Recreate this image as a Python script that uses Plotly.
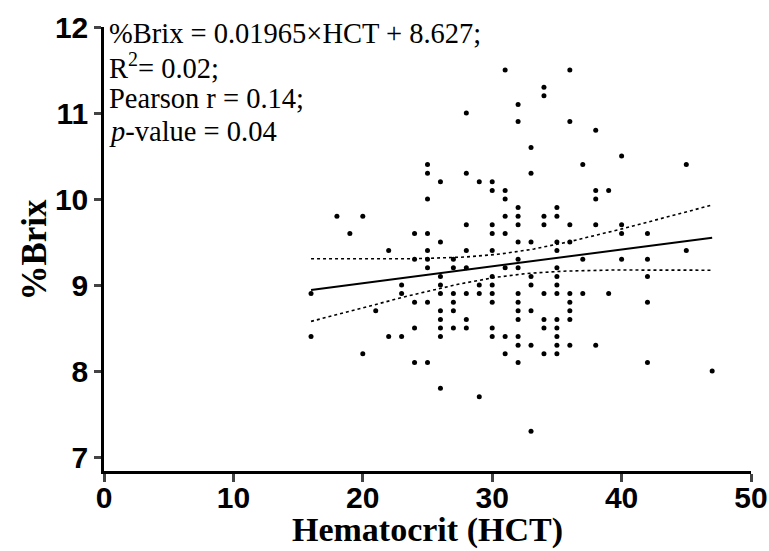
import numpy as np
import plotly.graph_objects as go

# Hematocrit (HCT) values and %Brix values
hct_groups = {
    16: [8.9, 8.4],
    18: [9.8],
    19: [9.6],
    20: [9.8, 8.2],
    21: [8.7],
    22: [9.4, 8.4],
    23: [9.0, 8.9, 8.4],
    24: [9.6, 9.3, 8.8, 8.5, 8.1],
    25: [10.4, 10.3, 10.0, 9.6, 9.4, 9.3, 9.2, 8.8, 8.1],
    26: [10.2, 9.5, 9.1, 9.0, 8.9, 8.7, 8.6, 8.5, 8.4, 7.8],
    27: [9.3, 9.2, 8.9, 8.8, 8.7, 8.5],
    28: [11.0, 10.3, 9.7, 9.4, 9.2, 8.9, 8.6, 8.5],
    29: [10.2, 9.0, 8.9, 7.7],
    30: [10.2, 10.1, 9.7, 9.6, 9.4, 9.1, 9.0, 8.9, 8.8, 8.5, 8.4],
    31: [11.5, 10.1, 10.0, 9.8, 9.6, 9.2, 8.4, 8.2],
    32: [11.1, 10.9, 9.9, 9.8, 9.7, 9.5, 9.3, 9.2, 8.9, 8.8, 8.7, 8.6, 8.4, 8.3, 8.1],
    33: [10.6, 10.3, 9.5, 9.1, 9.0, 8.7, 8.3, 7.3],
    34: [11.3, 11.2, 9.8, 9.7, 8.9, 8.6, 8.5, 8.2],
    35: [9.9, 9.8, 9.5, 9.4, 9.2, 9.1, 9.0, 8.9, 8.6, 8.5, 8.4, 8.3, 8.2],
    36: [11.5, 10.9, 9.7, 9.5, 8.9, 8.8, 8.7, 8.6, 8.3],
    37: [10.4, 9.3, 8.9],
    38: [10.8, 10.1, 10.0, 9.7, 8.3],
    39: [10.1, 8.9],
    40: [10.5, 9.7, 9.6, 9.3],
    42: [9.6, 9.3, 9.1, 8.8, 8.1],
    45: [10.4, 9.4],
    47: [8.0],
}
hct = [h for h, vals in hct_groups.items() for _ in vals]
brix = [v for vals in hct_groups.values() for v in vals]

# Reported linear fit
SLOPE = 0.01965
INTERCEPT = 8.627
T_CRIT = 1.976

x_ticks = [0, 10, 20, 30, 40, 50]
y_ticks = [7, 8, 9, 10, 11, 12]
x_title = "Hematocrit (HCT)"
y_title = "%Brix"

ann_lines = [
    "%Brix = 0.01965×HCT + 8.627;",
    "R<sup>2</sup>= 0.02;",
    "Pearson r = 0.14;",
    "<i>p</i>-value = 0.04",
]

x = np.array(hct, dtype=float)
y = np.array(brix, dtype=float)
n = len(x)
resid = y - (SLOPE * x + INTERCEPT)
s = np.sqrt(np.sum(resid ** 2) / (n - 2))
xbar = x.mean()
sxx = np.sum((x - xbar) ** 2)
xf = np.linspace(x.min(), x.max(), 100)
yf = SLOPE * xf + INTERCEPT
half = T_CRIT * s * np.sqrt(1.0 / n + (xf - xbar) ** 2 / sxx)

fig = go.Figure()
fig.add_trace(go.Scatter(x=xf, y=yf + half, mode="lines",
                         line=dict(color="black", width=1.6, dash="dot"), hoverinfo="skip"))
fig.add_trace(go.Scatter(x=xf, y=yf - half, mode="lines",
                         line=dict(color="black", width=1.6, dash="dot"), hoverinfo="skip"))
fig.add_trace(go.Scatter(x=xf, y=yf, mode="lines",
                         line=dict(color="black", width=2), hoverinfo="skip"))
fig.add_trace(go.Scatter(x=hct, y=brix, mode="markers",
                         marker=dict(color="black", size=5)))

line_y = [11.93, 11.55, 11.17, 10.79]
for txt, yy in zip(ann_lines, line_y):
    fig.add_annotation(x=0.3, y=yy, xref="x", yref="y", text=txt, showarrow=False,
                       xanchor="left", yanchor="middle", borderpad=0,
                       font=dict(family="Liberation Serif", size=28.5, color="black"))

# axis titles
fig.add_annotation(x=-0.107, y=9.41, xref="paper", yref="y", text=f"<b>{y_title}</b>",
                   showarrow=False, textangle=-90, xanchor="center", yanchor="middle",
                   font=dict(family="Liberation Serif", size=35, color="black"))
fig.add_annotation(x=0.5, y=-0.178, xref="paper", yref="paper", text=f"<b>{x_title}</b>",
                   showarrow=False, xanchor="center", yanchor="bottom", borderpad=0,
                   font=dict(family="Liberation Serif", size=34, color="black"))

fig.update_layout(
    width=769, height=551,
    margin=dict(l=104, r=18, t=27, b=80),
    paper_bgcolor="white", plot_bgcolor="white",
    showlegend=False,
    xaxis=dict(range=[0, 50], tickvals=x_ticks, ticks="outside", ticklen=8, tickwidth=2.5,
               showline=True, linewidth=2.5, linecolor="black", showgrid=False, zeroline=False,
               automargin=False, ticklabelstandoff=-10,
               tickfont=dict(family="Liberation Sans", size=30, color="black", weight="bold")),
    yaxis=dict(range=[7 - 14 / 86, 12], tickvals=y_ticks, ticks="outside", ticklen=7, tickwidth=2.5,
               showline=True, linewidth=2.5, linecolor="black", showgrid=False, zeroline=False,
               automargin=False,
               tickfont=dict(family="Liberation Sans", size=30, color="black", weight="bold")),
)
fig.write_html("out.html", config={"displayModeBar": False},
               post_script="document.body.style.margin='0';")
